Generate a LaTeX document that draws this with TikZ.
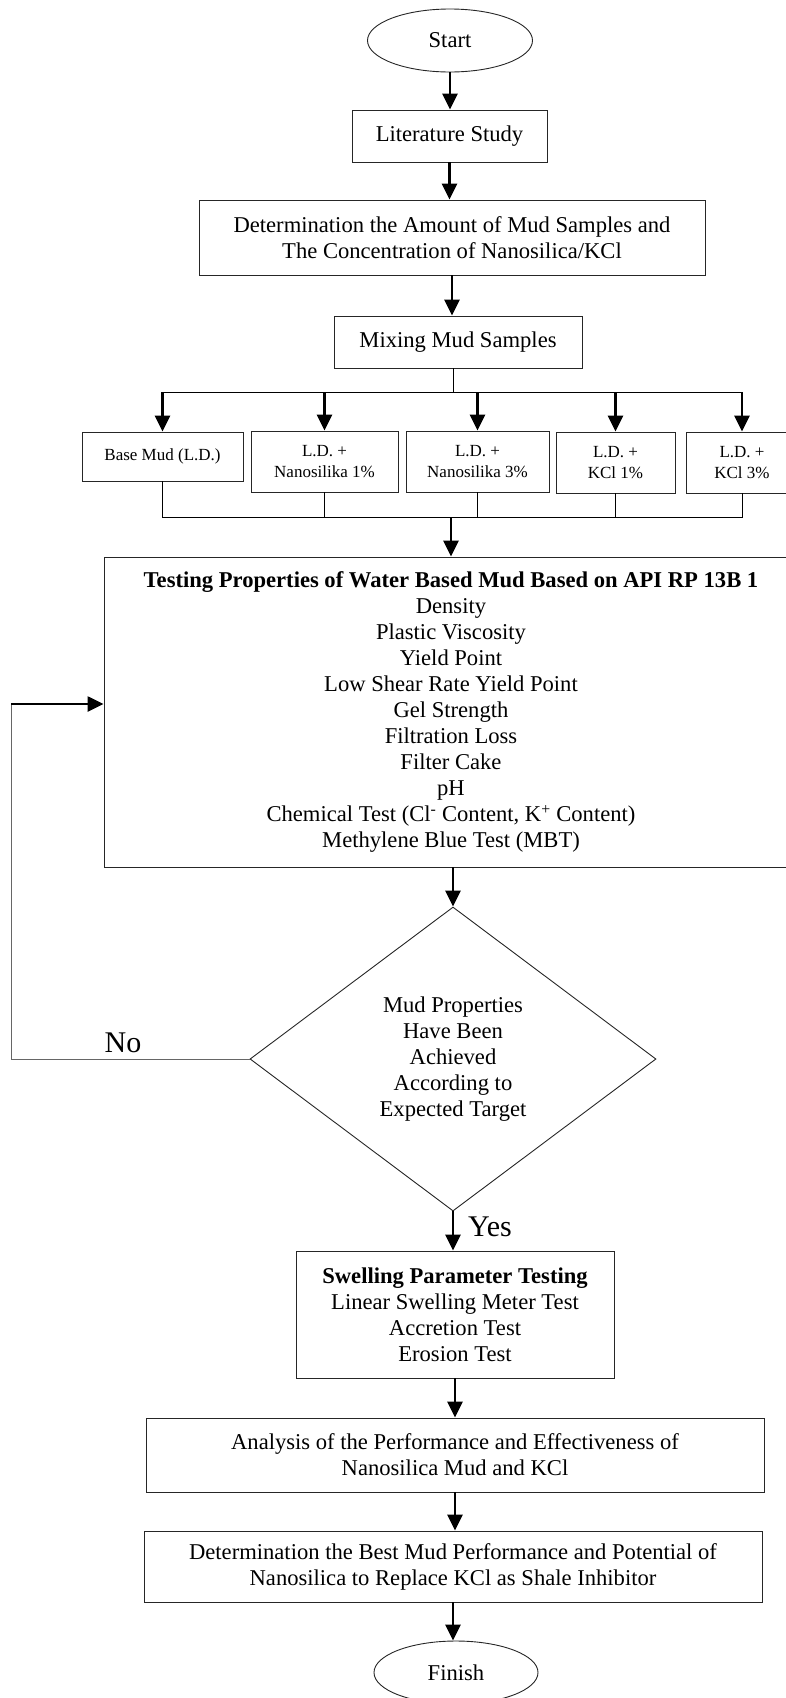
\documentclass[tikz,border=0pt]{standalone}
\usepackage{fontspec}
\setmainfont{Liberation Serif}
\usepackage{tikz}
\usetikzlibrary{positioning,arrows.meta,shapes.geometric}

\begin{document}
\begin{tikzpicture}[x=1pt,y=-1pt,>={Triangle[length=16pt,width=15pt]},
  box/.style={draw=black!85,line width=0.9pt,rectangle,inner sep=0pt,align=center,font=\fontsize{22.6}{26}\selectfont},
  term/.style={box,ellipse},
  small/.style={box,font=\fontsize{17}{20.5}\selectfont},
  arr/.style={->,line width=2.5pt},
  link/.style={line width=0.9pt},
  big/.style={inner sep=0pt,font=\fontsize{30}{34}\selectfont}]
\useasboundingbox (0,0) rectangle (786,1698);
\node[term,minimum width=165,minimum height=63] (start) at (450,40.5) {Start};
\node[box,minimum width=195,minimum height=52] (lit) at (449.5,136) {Literature Study};
\node[box,minimum width=506,minimum height=75] (amount) at (452,237.5) {Determination the Amount of Mud Samples and\\The Concentration of Nanosilica/KCl};
\node[box,minimum width=248,minimum height=52] (mix) at (458,342) {Mixing Mud Samples};
\node[small,minimum width=161,minimum height=49] (base) at (162.5,456.5) {Base Mud (L.D.)};
\node[small,minimum width=147,minimum height=61] (ns1) at (324.5,461.5) {L.D. +\\Nanosilika 1\%};
\node[small,minimum width=143,minimum height=61] (ns3) at (477.5,461.5) {L.D. +\\Nanosilika 3\%};
\node[small,minimum width=119,minimum height=61] (kcl1) at (615.5,462.5) {L.D. +\\KCl 1\%};
\node[small,minimum width=112,minimum height=61] (kcl3) at (742,462.5) {L.D. +\\KCl 3\%};
\node[box,minimum width=694,minimum height=310] (test) at (451,712) {\textbf{Testing Properties of Water Based Mud Based on API RP 13B 1}\\Density\\Plastic Viscosity\\Yield Point\\Low Shear Rate Yield Point\\Gel Strength\\Filtration Loss\\Filter Cake\\pH\\Chemical Test (Cl\textsuperscript{-} Content, K\textsuperscript{+} Content)\\Methylene Blue Test (MBT)};
\node[box,diamond,aspect=1.33,minimum width=406,minimum height=304] (dec) at (453,1059) {Mud Properties\\Have Been\\Achieved\\According to\\Expected Target};
\node[box,minimum width=318,minimum height=127] (swell) at (455,1314.5) {\textbf{Swelling Parameter Testing}\\Linear Swelling Meter Test\\Accretion Test\\Erosion Test};
\node[box,minimum width=618,minimum height=74] (anal) at (455,1455) {Analysis of the Performance and Effectiveness of\\Nanosilica Mud and KCl};
\node[box,minimum width=618,minimum height=71] (best) at (453,1566.5) {Determination the Best Mud Performance and Potential of\\Nanosilica to Replace KCl as Shale Inhibitor};
\node[term,minimum width=164,minimum height=63] (finish) at (456,1672.5) {Finish};
\node[big] (no) at (123,1043) {No};
\node[big] (yes) at (490,1227) {Yes};
\coordinate (split) at (453,392);
\coordinate (join) at (451,517);
\coordinate (loop) at (11,704);
\draw[arr] (start.south) -- (start.south |- lit.north);
\draw[arr] (lit.south) -- (lit.south |- amount.north);
\draw[arr] (amount.south) -- (amount.south |- mix.north);
\draw[link] (split |- mix.south) -- (split);
\draw[link] (base.north |- split) -- (kcl3.north |- split);
\draw[arr] (base.north |- split) -- (base.north);
\draw[arr] (ns1.north |- split) -- (ns1.north);
\draw[arr] (ns3.north |- split) -- (ns3.north);
\draw[arr] (kcl1.north |- split) -- (kcl1.north);
\draw[arr] (kcl3.north |- split) -- (kcl3.north);
\draw[link] (base.south) -- (base.south |- join) -- (kcl3.south |- join) -- (kcl3.south);
\draw[link] (ns1.south) -- (ns1.south |- join);
\draw[link] (ns3.south) -- (ns3.south |- join);
\draw[link] (kcl1.south) -- (kcl1.south |- join);
\draw[arr] (join) -- (join |- test.north);
\draw[arr] (dec.north |- test.south) -- (dec.north);
\draw[link,black!60] (dec.west) -- (dec.west -| loop) -- (loop);
\draw[arr] (loop) -- (loop -| test.west);
\draw[arr] (dec.south) -- (dec.south |- swell.north);
\draw[arr] (swell.south) -- (swell.south |- anal.north);
\draw[arr] (anal.south) -- (anal.south |- best.north);
\draw[arr] (best.south) -- (best.south |- finish.north);
\end{tikzpicture}
\end{document}
